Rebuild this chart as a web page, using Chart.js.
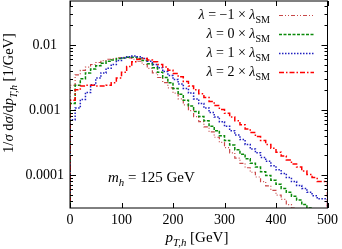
<!DOCTYPE html>
<html lang="en">
<head>
  <meta charset="UTF-8" />
  <title>pT,h distribution</title>
  <style>
    body { margin: 0; padding: 0; background: white; }
    #wrap { width: 342px; height: 249px; }
  </style>
  <script src="https://cdn.jsdelivr.net/npm/chart.js"></script>
</head>
<body>
  <div id="wrap"><canvas id="ptChart" width="342" height="249"></canvas></div>

  <script>
    // bin edges in GeV (10 GeV bins)
    const binEdges = [0, 10, 20, 30, 40, 50, 60, 70, 80, 90, 100, 110, 120, 130, 140, 150, 160, 170, 180, 190,
      200, 210, 220, 230, 240, 250, 260, 270, 280, 290, 300, 310, 320, 330, 340, 350, 360, 370, 380, 390,
      400, 410, 420, 430, 440, 450, 460, 470, 480, 490, 500];

    // 1/sigma dsigma/dpT [1/GeV]
    const lamMinus1 = [1.0e-3, 2.40e-3, 3.47e-3, 4.07e-3, 4.57e-3, 5.01e-3, 5.37e-3, 5.75e-3, 6.03e-3, 6.17e-3,
      6.31e-3, 6.46e-3, 6.31e-3, 6.03e-3, 5.62e-3, 5.01e-3, 4.37e-3, 3.72e-3, 3.16e-3, 2.63e-3,
      2.19e-3, 1.82e-3, 1.48e-3, 1.20e-3, 9.8e-4, 7.9e-4, 6.6e-4, 5.5e-4, 4.6e-4, 3.8e-4,
      3.16e-4, 2.63e-4, 2.19e-4, 1.82e-4, 1.51e-4, 1.29e-4, 1.10e-4, 9.3e-5, 7.9e-5, 6.8e-5,
      5.8e-5, 4.9e-5, 4.2e-5, 3.5e-5, 3.1e-5, 2.7e-5, 2.3e-5, 2.0e-5, 1.8e-5, 1.55e-5];
    const lam0 = [4.5e-4, 1.26e-3, 2.40e-3, 3.02e-3, 3.72e-3, 4.27e-3, 4.79e-3, 5.25e-3, 5.62e-3, 5.89e-3,
      6.17e-3, 6.31e-3, 6.46e-3, 6.46e-3, 6.17e-3, 5.75e-3, 5.13e-3, 4.47e-3, 3.80e-3, 3.16e-3,
      2.63e-3, 2.14e-3, 1.74e-3, 1.41e-3, 1.15e-3, 9.5e-4, 7.9e-4, 6.8e-4, 5.6e-4, 4.8e-4,
      4.0e-4, 3.4e-4, 2.88e-4, 2.45e-4, 2.09e-4, 1.78e-4, 1.51e-4, 1.32e-4, 1.12e-4, 9.8e-5,
      8.3e-5, 7.2e-5, 6.2e-5, 5.4e-5, 4.7e-5, 4.1e-5, 3.5e-5, 3.1e-5, 2.7e-5, 2.3e-5];
    const lam1 = [2.04e-4, 7.1e-4, 1.07e-3, 1.45e-3, 1.86e-3, 2.45e-3, 3.09e-3, 3.72e-3, 4.37e-3, 5.01e-3,
      5.75e-3, 6.31e-3, 6.61e-3, 6.76e-3, 6.61e-3, 6.17e-3, 5.62e-3, 5.01e-3, 4.47e-3, 3.89e-3,
      3.39e-3, 2.95e-3, 2.51e-3, 2.14e-3, 1.82e-3, 1.48e-3, 1.26e-3, 1.07e-3, 9.1e-4, 7.8e-4,
      6.6e-4, 5.6e-4, 4.8e-4, 4.1e-4, 3.5e-4, 2.95e-4, 2.51e-4, 2.19e-4, 1.86e-4, 1.62e-4,
      1.38e-4, 1.20e-4, 1.05e-4, 9.1e-5, 7.9e-5, 6.9e-5, 6.2e-5, 5.4e-5, 4.8e-5, 4.3e-5];
    const lam2 = [4.9e-4, 1.41e-3, 2.04e-3, 2.34e-3, 2.40e-3, 2.40e-3, 2.34e-3, 2.34e-3, 2.40e-3, 2.63e-3,
      3.09e-3, 3.80e-3, 4.68e-3, 5.50e-3, 6.03e-3, 6.17e-3, 5.89e-3, 5.50e-3, 5.01e-3, 4.57e-3,
      4.07e-3, 3.63e-3, 3.24e-3, 2.75e-3, 2.34e-3, 2.04e-3, 1.78e-3, 1.55e-3, 1.35e-3, 1.17e-3,
      1.02e-3, 8.9e-4, 7.8e-4, 6.8e-4, 5.9e-4, 5.1e-4, 4.5e-4, 3.9e-4, 3.4e-4, 2.95e-4,
      2.57e-4, 2.24e-4, 1.95e-4, 1.70e-4, 1.48e-4, 1.32e-4, 1.15e-4, 1.02e-4, 9.1e-5, 7.9e-5];

    const lambdaLabels = ['\u22121', '0', '1', '2'];
    const xTicks = [0, 100, 200, 300, 400, 500];
    const yTicks = [0.0001, 0.001, 0.01];
    const yTickLabels = ['0.0001', '0.001', '0.01'];
    const yMin = 3.1e-5, yMax = 0.0475;
    const floorVal = 1e-7; // histogram closes down to below the axis

    const serif = "'Liberation Serif', 'DejaVu Serif', serif";

    function histPoints(vals) {
      const pts = [{ x: binEdges[0], y: floorVal }];
      vals.forEach((v, i) => pts.push({ x: binEdges[i], y: v }));
      const last = binEdges[vals.length];
      pts.push({ x: last, y: vals[vals.length - 1] });
      pts.push({ x: last, y: floorVal });
      return pts;
    }

    const styles = [
      { color: '#c84848', dash: [4, 2, 1, 2, 1, 2], width: 1.2, order: 3 },
      { color: '#0a8a0a', dash: [3, 1.5], width: 1.5, order: 2 },
      { color: '#2020c0', dash: [1.5, 1.5], width: 1.5, order: 1 },
      { color: '#ff0000', dash: [5, 2, 1.5, 2], width: 1.5, order: 0 }
    ];
    const series = [lamMinus1, lam0, lam1, lam2];

    const datasets = series.map((vals, i) => ({
      label: 'lambda = ' + lambdaLabels[i],
      data: histPoints(vals),
      borderColor: styles[i].color,
      borderDash: styles[i].dash,
      borderWidth: styles[i].width,
      order: styles[i].order,
      stepped: 'after',
      pointRadius: 0,
      fill: false
    }));

    // draw a string made of parts (italic / subscript)
    function drawRich(ctx, parts, x, y, align, size) {
      const fontFor = p => (p.it ? 'italic ' : '') + (p.sub ? size * 0.72 : size) + 'px ' + serif;
      let total = 0;
      parts.forEach(p => { ctx.font = fontFor(p); total += ctx.measureText(p.t).width; });
      let cx = align === 'center' ? x - total / 2 : (align === 'right' ? x - total : x);
      ctx.textAlign = 'left';
      ctx.textBaseline = 'alphabetic';
      parts.forEach(p => {
        ctx.font = fontFor(p);
        ctx.fillText(p.t, cx, p.sub ? y + size * 0.25 : y);
        cx += ctx.measureText(p.t).width;
      });
    }

    const decorPlugin = {
      id: 'decor',
      afterDraw(chart) {
        const ctx = chart.ctx;
        const a = chart.chartArea;
        const xs = chart.scales.x, ys = chart.scales.y;
        ctx.save();
        ctx.strokeStyle = '#000';
        ctx.fillStyle = '#000';
        ctx.lineWidth = 1;
        ctx.setLineDash([]);

        // frame
        ctx.strokeRect(a.left, a.top, a.right - a.left, a.bottom - a.top);

        // x ticks, inward on bottom and top
        ctx.beginPath();
        xTicks.forEach(v => {
          const px = Math.round(xs.getPixelForValue(v)) + 0.5;
          ctx.moveTo(px, a.bottom); ctx.lineTo(px, a.bottom - 5);
          ctx.moveTo(px, a.top); ctx.lineTo(px, a.top + 5);
        });
        // y ticks, majors and minors, on both sides
        for (let e = -5; e <= -1; e++) {
          for (let k = 1; k <= 9; k++) {
            const v = k * Math.pow(10, e);
            if (v < yMin || v > yMax) continue;
            const py = Math.round(ys.getPixelForValue(v)) + 0.5;
            const len = k === 1 ? 6 : 3;
            ctx.moveTo(a.left, py); ctx.lineTo(a.left + len, py);
            ctx.moveTo(a.right, py); ctx.lineTo(a.right - len, py);
          }
        }
        ctx.stroke();

        // legend
        const rowY = [15, 34, 53, 72];
        series.forEach((vals, i) => {
          ctx.fillStyle = '#000';
          drawRich(ctx, [
            { t: '\u03bb', it: true }, { t: ' = ' + lambdaLabels[i] + ' \u00d7 ' },
            { t: '\u03bb', it: true }, { t: 'SM', sub: true }
          ], 270, rowY[i] + 4, 'right', 14);
          ctx.beginPath();
          ctx.strokeStyle = styles[i].color;
          ctx.lineWidth = styles[i].width;
          ctx.setLineDash(styles[i].dash);
          ctx.moveTo(279, rowY[i] + 0.5);
          ctx.lineTo(314, rowY[i] + 0.5);
          ctx.stroke();
        });
        ctx.setLineDash([]);
        ctx.fillStyle = '#000';

        // Higgs mass note
        drawRich(ctx, [
          { t: 'm', it: true }, { t: 'h', it: true, sub: true }, { t: ' = 125 GeV' }
        ], 108, 182, 'left', 15);

        // x title
        drawRich(ctx, [
          { t: 'p', it: true }, { t: 'T,h', it: true, sub: true }, { t: ' [GeV]' }
        ], 197, 242, 'center', 15);

        // y title
        ctx.translate(13, 93);
        ctx.rotate(-Math.PI / 2);
        drawRich(ctx, [
          { t: '1/' }, { t: '\u03c3', it: true }, { t: ' d' }, { t: '\u03c3', it: true },
          { t: '/d' }, { t: 'p', it: true }, { t: 'T,h', it: true, sub: true }, { t: ' [1/GeV]' }
        ], 0, 0, 'center', 14.5);
        ctx.restore();
      }
    };

    const ctx = document.getElementById('ptChart').getContext('2d');
    new Chart(ctx, {
      type: 'line',
      data: { datasets: datasets },
      options: {
        responsive: false,
        animation: false,
        devicePixelRatio: 1,
        layout: { padding: { left: 0, right: 12, top: 1, bottom: 0 } },
        plugins: { legend: { display: false }, tooltip: { enabled: false } },
        scales: {
          x: {
            type: 'linear',
            min: 0,
            max: 500,
            afterBuildTicks: s => { s.ticks = xTicks.map(v => ({ value: v })); },
            ticks: { color: '#000', font: { family: serif, size: 14 }, padding: 4, maxRotation: 0 },
            grid: { display: false, drawTicks: false },
            border: { display: false },
            afterFit: s => { s.height = 41; }
          },
          y: {
            type: 'logarithmic',
            min: yMin,
            max: yMax,
            afterBuildTicks: s => { s.ticks = yTicks.map(v => ({ value: v })); },
            ticks: {
              color: '#000',
              font: { family: serif, size: 14 },
              padding: 6,
              crossAlign: 'center',
              callback: (v) => yTickLabels[yTicks.indexOf(v)] ?? ''
            },
            grid: { display: false, drawTicks: false },
            border: { display: false },
            afterFit: s => { s.width = 70; s.paddingTop = 0; s.paddingBottom = 0; }
          }
        }
      },
      plugins: [decorPlugin]
    });
  </script>
</body>
</html>
